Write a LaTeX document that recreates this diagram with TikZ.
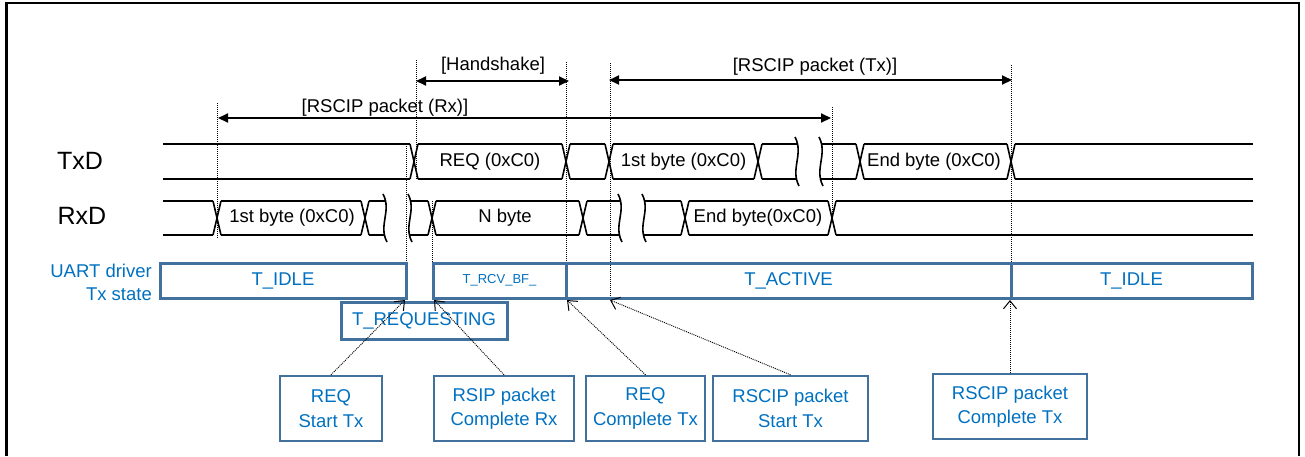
\documentclass[tikz,border=0pt]{standalone}
\usepackage{fontspec}
\setmainfont{Liberation Sans}
\usetikzlibrary{arrows.meta}
\definecolor{txtblue}{RGB}{0,112,192}
\definecolor{boxblue}{RGB}{65,113,156}
\newcommand\wseg[4]{\draw[wave] (#1,#3) -- (#2,#3) (#1,#4) -- (#2,#4);}
\newcommand\wx[3]{\draw[wave] ({#1-4},#2) -- ({#1+4},#3) ({#1-4},#3) -- ({#1+4},#2);}
\newcommand\wbrk[3]{\draw[wave] ({#1-2},{#2-7}) .. controls ({#1+7},{#2+10}) and ({#1-7},{#3-10}) .. ({#1+2},{#3+7});}
\tikzset{
  wave/.style={line width=1.6pt, black},
  vdot/.style={line width=0.9pt, black, dash pattern=on 1pt off 1pt},
  span/.style={line width=2pt, {Triangle[length=10pt,width=9pt]}-{Triangle[length=10pt,width=9pt]}},
  lbl/.style={font=\fontsize{18.5}{22}\selectfont, inner sep=0pt},
  sig/.style={font=\fontsize{25}{30}\selectfont, inner sep=0pt},
  state/.style={draw=boxblue, line width=3pt, text=txtblue, font=\fontsize{18.5}{22}\selectfont, minimum height=35pt, inner sep=0pt},
  callout/.style={draw=boxblue, line width=2.4pt, text=txtblue, align=center, font=\fontsize{18.5}{24.4}\selectfont, inner sep=0pt},
  callarrow/.style={vdot, -{Straight Barb[length=8pt,width=13pt,line width=1pt]}},
}
\begin{document}
\begin{tikzpicture}[x=1pt,y=-1pt]
\useasboundingbox (0,0) rectangle (1305,456);
% frame
\draw[line width=2.8pt] (6.5,456) -- (6.5,3) -- (1299,3) -- (1299,456);

% vertical dotted guide lines
\draw[vdot] (217,103) -- (217,238);
\draw[vdot] (416,60) -- (416,180);
\draw[vdot] (406,144) -- (406,263);
\draw[vdot] (432,201) -- (432,263);
\draw[vdot] (566,62) -- (566,263);
\draw[vdot] (610,63) -- (610,298);
\draw[vdot] (832,107) -- (832,218);
\draw[vdot] (1011,65) -- (1011,263);

% span arrows
\coordinate (hsL) at (416,81);
\coordinate (hsR) at (569,81);
\coordinate (rxL) at (218,118);
\coordinate (rxR) at (831,118);
\coordinate (txL) at (609,80);
\coordinate (txR) at (1012,80);
\draw[span] (hsL) -- (hsR);
\draw[span] (rxL) -- (rxR);
\draw[span] (txL) -- (txR);
\node[lbl] (hslbl) at (493,65.5) {[Handshake]};
\node[lbl] (rxlbl) at (385,108) {[RSCIP packet (Rx)]};
\node[lbl] (txlbl) at (815,66.5) {[RSCIP packet (Tx)]};

% signal names
\node[sig] (txd) at (80,161) {TxD};
\node[sig] (rxd) at (82,216) {RxD};

% TxD waveform
\wseg{163}{410}{144}{179}
\wx{414}{144}{179}
\wseg{418}{562}{144}{179}
\wx{566}{144}{179}
\wseg{570}{605}{144}{179}
\wx{609}{144}{179}
\wseg{613}{754}{144}{179}
\wx{758}{144}{179}
\wseg{762}{797}{144}{179}
\wbrk{797}{144}{179}
\wbrk{821}{144}{179}
\wseg{821}{856}{144}{179}
\wx{860}{144}{179}
\wseg{864}{1007}{144}{179}
\wx{1011}{144}{179}
\wseg{1015}{1253}{144}{179}
\node[lbl] (tx1) at (490,161.5) {REQ (0xC0)};
\node[lbl] (tx2) at (683.5,161.5) {1st byte (0xC0)};
\node[lbl] (tx3) at (934,161.5) {End byte (0xC0)};

% RxD waveform
\wseg{163}{213}{201}{235}
\wx{217}{201}{235}
\wseg{221}{361}{201}{235}
\wx{365}{201}{235}
\wseg{369}{385}{201}{235}
\wbrk{385}{201}{235}
\wbrk{410}{201}{235}
\wseg{410}{428}{201}{235}
\wx{432}{201}{235}
\wseg{436}{579}{201}{235}
\wx{583}{201}{235}
\wseg{587}{620}{201}{235}
\wbrk{620}{201}{235}
\wbrk{644}{201}{235}
\wseg{644}{681}{201}{235}
\wx{685}{201}{235}
\wseg{689}{828}{201}{235}
\wx{832}{201}{235}
\wseg{836}{1253}{201}{235}
\node[lbl] (rx1) at (292,218) {1st byte (0xC0)};
\node[lbl] (rx2) at (505,218) {N byte};
\node[lbl] (rx3) at (758,218) {End byte(0xC0)};

% state row
\node[text=txtblue, align=right, anchor=east, font=\fontsize{18.5}{23.6}\selectfont, inner sep=0pt] (uart) at (152,282.5) {UART driver\\Tx state};
\node[state, minimum width=246pt] (idle1) at (283,280.5) {T\_IDLE};
\node[state, minimum width=133pt, font=\fontsize{13}{15}\selectfont] (rcv) at (499.5,280.5) {T\_RCV\_BF\_};
\node[state, minimum width=445pt] (active) at (788.5,280.5) {T\_ACTIVE};
\node[state, minimum width=241pt] (idle2) at (1131.5,280.5) {T\_IDLE};
\node[state, minimum width=166pt, minimum height=37pt] (req) at (424,320.5) {T\_REQUESTING};

% callouts
\node[callout, minimum width=102pt, minimum height=65pt] (c1) at (331,408.5) {REQ\\Start Tx};
\node[callout, minimum width=140pt, minimum height=65pt] (c2) at (504,408.5) {RSIP packet\\Complete Rx};
\node[callout, minimum width=119pt, minimum height=65pt] (c3) at (645.5,408.5) {REQ\\Complete Tx};
\node[callout, minimum width=155pt, minimum height=65pt] (c4) at (790.5,408.5) {RSCIP packet\\Start Tx};
\node[callout, minimum width=154pt, minimum height=65pt] (c5) at (1010,406.5) {RSCIP packet\\Complete Tx};

\coordinate (p1) at (405,300);
\coordinate (p2) at (434,300);
\coordinate (p3) at (567,300);
\coordinate (p4) at (610,300);
\coordinate (p5) at (1010,300);
\draw[callarrow] (c1.north) -- (p1);
\draw[callarrow] (c2.north) -- (p2);
\draw[callarrow] (c3.north) -- (p3);
\draw[callarrow] (c4.north) -- (p4);
\draw[callarrow] (c5.north) -- (p5);
\end{tikzpicture}
\end{document}
